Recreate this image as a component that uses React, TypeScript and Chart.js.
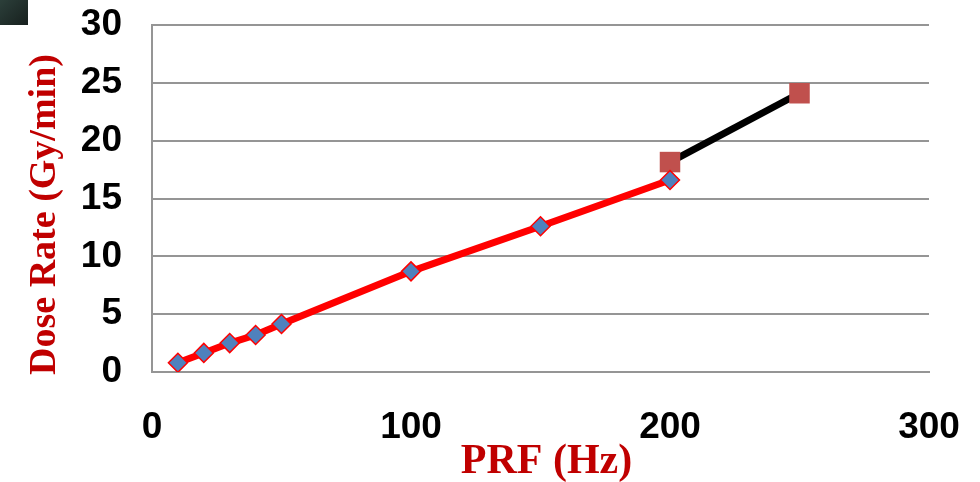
import React, { useEffect, useRef } from "react";
import { Chart, registerables } from "chart.js";

Chart.register(...registerables);

const prfMeasured = [10, 20, 30, 40, 50, 100, 150, 200];
const doseMeasured = [0.8, 1.65, 2.5, 3.2, 4.15, 8.7, 12.6, 16.6];
const prfExtra = [200, 250];
const doseExtra = [18.15, 24.1];
const xTicks = [0, 100, 200, 300];
const yTicks = [0, 5, 10, 15, 20, 25, 30];
const xTitle = "PRF (Hz)";
const yTitle = "Dose Rate (Gy/min)";

const titlePlugin = {
  id: "axisTitles",
  afterDraw(chart: any) {
    const ctx = chart.ctx;
    const area = chart.chartArea;
    ctx.save();
    ctx.fillStyle = "#C00000";
    ctx.textAlign = "center";
    ctx.textBaseline = "alphabetic";
    ctx.font = "bold 42px 'Liberation Serif', 'Times New Roman', serif";
    ctx.fillText(xTitle, (area.left + area.right) / 2 + 6, 473);
    ctx.translate(55, (area.top + area.bottom) / 2 + 16);
    ctx.rotate(-Math.PI / 2);
    ctx.font = "bold 38px 'Liberation Serif', 'Times New Roman', serif";
    ctx.fillText(yTitle, 0, 0);
    ctx.restore();
  },
};

export default function App() {
  const ref = useRef<HTMLCanvasElement | null>(null);
  useEffect(() => {
    if (!ref.current) return;
    const grid = "#959595";
    const chart = new Chart(ref.current, {
      type: "scatter",
      plugins: [titlePlugin],
      data: {
        datasets: [
          {
            data: prfMeasured.map((x, i) => ({ x, y: doseMeasured[i] })),
            showLine: true,
            borderColor: "#FF0000",
            borderWidth: 7,
            pointStyle: "rectRot",
            pointRadius: 9.5,
            pointBackgroundColor: "#4F81BD",
            pointBorderColor: "#FF0000",
            pointBorderWidth: 1.5,
            order: 1,
          },
          {
            data: prfExtra.map((x, i) => ({ x, y: doseExtra[i] })),
            showLine: true,
            borderColor: "#000000",
            borderWidth: 7,
            pointStyle: "rect",
            pointRadius: 14.5,
            pointBackgroundColor: "#C0504D",
            pointBorderColor: "#C0504D",
            pointBorderWidth: 0,
            order: 2,
          },
        ],
      },
      options: {
        animation: false,
        responsive: false,
        maintainAspectRatio: false,
        layout: { padding: { top: 25, right: 51, left: 0, bottom: 0 } },
        plugins: { legend: { display: false }, tooltip: { enabled: false } },
        scales: {
          x: {
            type: "linear",
            min: 0,
            max: 300,
            afterBuildTicks: (s: any) => {
              s.ticks = xTicks.map((v) => ({ value: v }));
            },
            afterFit: (s: any) => {
              s.height = 110;
              s.paddingLeft = 0;
              s.paddingRight = 0;
            },
            grid: { display: false, drawTicks: false },
            border: { display: true, color: grid, width: 2 },
            ticks: {
              padding: 34,
              color: "#000",
              font: { family: "'Liberation Sans', Arial, sans-serif", size: 37, weight: "bold" },
              maxRotation: 0,
            },
          },
          y: {
            type: "linear",
            min: 0,
            max: 30,
            afterBuildTicks: (s: any) => {
              s.ticks = yTicks.map((v) => ({ value: v }));
            },
            afterFit: (s: any) => {
              s.width = 152;
              s.paddingTop = 0;
              s.paddingBottom = 0;
            },
            grid: { color: grid, lineWidth: 2, drawTicks: false },
            border: { display: true, color: grid, width: 2 },
            ticks: {
              padding: 30,
              color: "#000",
              font: { family: "'Liberation Sans', Arial, sans-serif", size: 37, weight: "bold" },
            },
          },
        },
      },
    });
    return () => chart.destroy();
  }, []);
  return (
    <div style={{ position: "absolute", left: 0, top: 0, width: 980, height: 482, background: "#fff" }}>
      <canvas ref={ref} width={980} height={482} style={{ display: "block" }} />
      <div
        style={{
          position: "absolute",
          left: 0,
          top: 0,
          width: 28,
          height: 25,
          background: "linear-gradient(135deg, #2c3f3a 0%, #17201e 100%)",
        }}
      />
    </div>
  );
}
